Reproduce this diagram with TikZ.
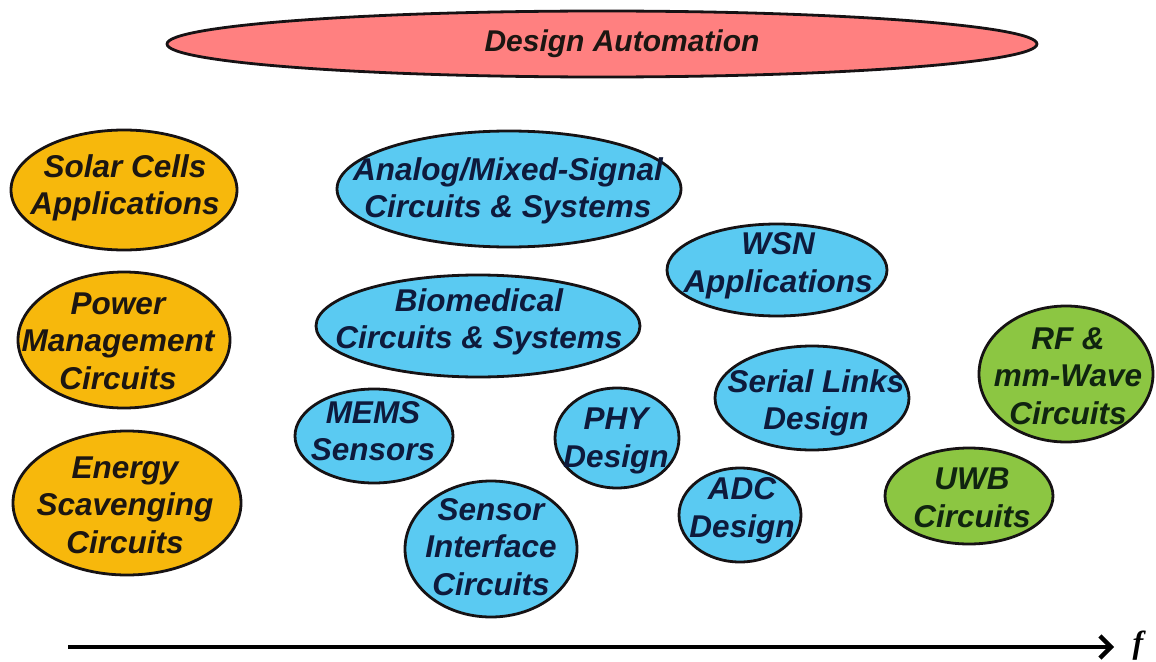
\documentclass[tikz,border=0pt]{standalone}
\usepackage{fontspec}
\setmainfont{Liberation Sans}
\newfontfamily\serifit{Liberation Serif}
\usetikzlibrary{shapes.geometric,arrows.meta}

\definecolor{pinkfill}{RGB}{255,128,128}
\definecolor{orangefill}{RGB}{247,184,12}
\definecolor{bluefill}{RGB}{90,202,242}
\definecolor{greenfill}{RGB}{140,198,66}
\definecolor{rimcol}{RGB}{22,18,20}
\definecolor{inkdark}{RGB}{28,22,18}
\definecolor{inkblue}{RGB}{14,26,60}
\definecolor{inkgreen}{RGB}{16,36,16}

\tikzset{
  blob/.style={ellipse, draw=rimcol, line width=2.8pt, inner sep=0pt},
  pinkblob/.style={blob, fill=pinkfill},
  orangeblob/.style={blob, fill=orangefill},
  blueblob/.style={blob, fill=bluefill},
  greenblob/.style={blob, fill=greenfill},
  lbl/.style={align=center, inner sep=0pt,
    font=\fontsize{31.5}{37.5}\selectfont\bfseries\itshape},
  lbldark/.style={lbl, text=inkdark},
  lblblue/.style={lbl, text=inkblue},
  lblgreen/.style={lbl, text=inkgreen},
}

\begin{document}
\begin{tikzpicture}[x=1pt, y=-1pt]
  \useasboundingbox (0,0) rectangle (1156,661);

  % top band
  \node[pinkblob, minimum width=870, minimum height=66] (da) at (602,44) {};
  \node[lbldark, font=\fontsize{30}{36}\selectfont\bfseries\itshape] (dat) at (622,44) {Design Automation};

  % low-power column
  \node[orangeblob, minimum width=226, minimum height=120] (solar) at (124,190) {};
  \node[lbldark] (solart) at (125,188) {Solar Cells\\Applications};
  \node[orangeblob, minimum width=212, minimum height=136] (power) at (124,340) {};
  \node[lbldark] (powert) at (118,341) {Power\\Management\\Circuits};
  \node[orangeblob, minimum width=228, minimum height=144] (energy) at (127,503) {};
  \node[lbldark] (energyt) at (125,505) {Energy\\Scavenging\\Circuits};

  % mixed-signal group
  \node[blueblob, minimum width=344, minimum height=116] (ams) at (509,189) {};
  \node[lblblue] (amst) at (508,191) {Analog/Mixed-Signal\\Circuits \& Systems};
  \node[blueblob, minimum width=220, minimum height=92] (wsn) at (777,270) {};
  \node[lblblue] (wsnt) at (778,266) {WSN\\Applications};
  \node[blueblob, minimum width=324, minimum height=102] (bio) at (478,326) {};
  \node[lblblue] (biot) at (479,322) {Biomedical\\Circuits \& Systems};
  \node[blueblob, minimum width=158, minimum height=94] (mems) at (374,436) {};
  \node[lblblue] (memst) at (373,431) {MEMS\\Sensors};
  \node[blueblob, minimum width=124, minimum height=100] (phy) at (617,438) {};
  \node[lblblue] (phyt) at (616,441) {PHY\\Design};
  \node[blueblob, minimum width=194, minimum height=104] (serial) at (812,398) {};
  \node[lblblue] (serialt) at (816,403) {Serial Links\\Design};
  \node[blueblob, minimum width=172, minimum height=136] (sensor) at (491,549) {};
  \node[lblblue] (sensort) at (491,547) {Sensor\\Interface\\Circuits};
  \node[blueblob, minimum width=122, minimum height=94] (adc) at (740,515) {};
  \node[lblblue] (adct) at (742,511) {ADC\\Design};

  % high-frequency group
  \node[greenblob, minimum width=174, minimum height=136] (rf) at (1066,374) {};
  \node[lblgreen] (rft) at (1068,376) {RF \&\\mm-Wave\\Circuits};
  \node[greenblob, minimum width=168, minimum height=96] (uwb) at (969,496) {};
  \node[lblgreen] (uwbt) at (972,498) {UWB\\Circuits};

  % frequency axis
  \coordinate (axs) at (68,647);
  \coordinate (axe) at (1114,647);
  \draw[line width=4.6pt, draw=black,
        -{Straight Barb[length=11pt,width=22pt,line width=4.4pt]}] (axs) -- (axe);
  \node[inner sep=0pt, font=\fontsize{32}{36}\selectfont\serifit\bfseries\itshape]
    (flbl) at (1138,646) {f};
\end{tikzpicture}
\end{document}
